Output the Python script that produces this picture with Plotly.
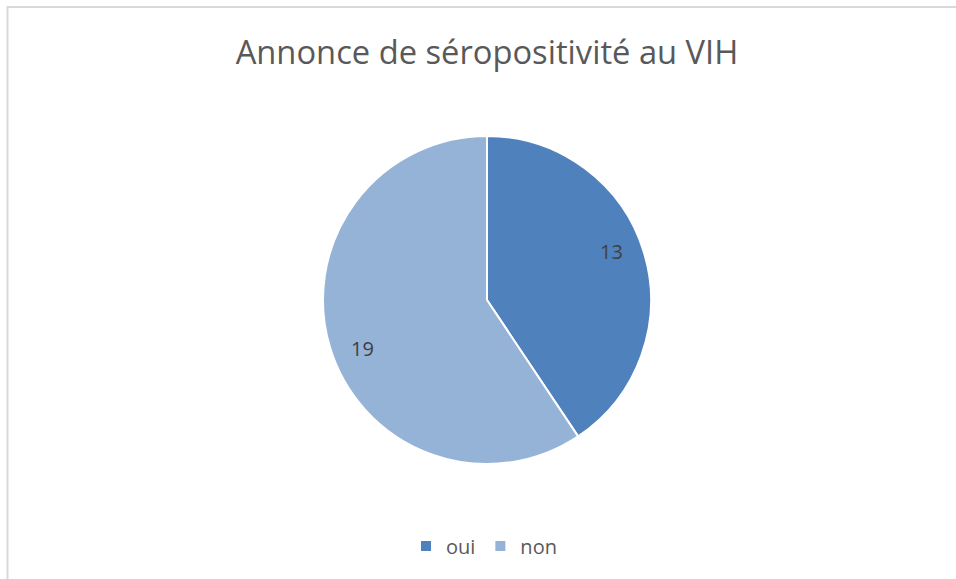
import math
import plotly.graph_objects as go

categories = ["oui", "non"]
values = [13, 19]
colors = ["#4F81BD", "#95B3D7"]
title = "Annonce de séropositivité au VIH"

W, H = 956, 579
cx, cy, R = 487, 300, 164

fig = go.Figure(go.Pie(
    labels=categories, values=values, sort=False, direction="clockwise",
    rotation=0, marker=dict(colors=colors, line=dict(color="white", width=2)),
    textinfo="none", hoverinfo="label+value",
    domain=dict(x=[(cx - R) / W, (cx + R) / W], y=[(H - cy - R) / H, (H - cy + R) / H]),
))

# data labels positioned from slice mid-angles
total = sum(values)
start = 0.0
annotations = []
for v in values:
    mid = start + v / total * 360 / 2 - 4.5
    start += v / total * 360
    r = 0.815 * R
    x = cx + r * math.sin(math.radians(mid))
    y = cy - r * math.cos(math.radians(mid))
    annotations.append(dict(x=x / W, y=1 - y / H, xref="paper", yref="paper",
                            text=str(v), showarrow=False,
                            font=dict(size=20, color="#404040")))

fig.update_layout(
    width=W, height=H,
    margin=dict(l=0, r=0, t=0, b=0),
    paper_bgcolor="white", plot_bgcolor="white",
    font=dict(family="Open Sans", color="#595959"),
    title=dict(text=title, x=487 / W, xanchor="center", y=1 - 53 / H, yanchor="middle",
               font=dict(size=32.7, color="#595959")),
    showlegend=True,
    legend=dict(orientation="h", x=484 / W, xanchor="center", y=1 - 546 / H, yanchor="middle",
                font=dict(size=20, color="#595959"), itemwidth=30),
    annotations=annotations,
    shapes=[dict(type="rect", xref="paper", yref="paper", x0=7.5 / W, y0=-0.05,
                 x1=1.05, y1=1 - 7 / H, line=dict(color="#D9D9D9", width=2))],
)

fig.write_html("out.html", config={"displayModeBar": False},
               post_script="document.body.style.margin='0';document.body.style.overflow='hidden';")
